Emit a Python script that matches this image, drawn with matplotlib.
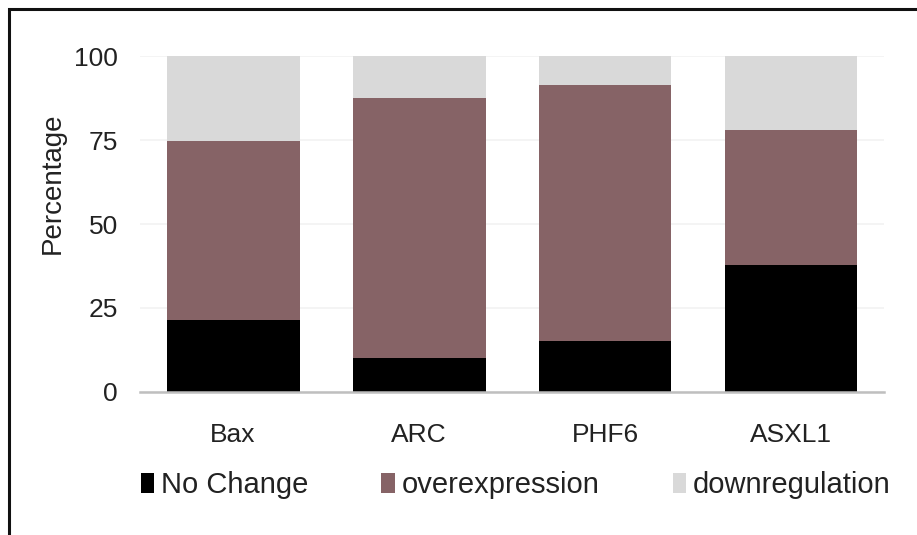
import matplotlib.pyplot as plt
from matplotlib.patches import Rectangle
import numpy as np

plt.rcParams['font.family'] = ['Liberation Sans', 'DejaVu Sans']

genes = ['Bax', 'ARC', 'PHF6', 'ASXL1']
no_change = [21.4, 10.0, 15.3, 37.9]
overexpression = [53.2, 77.5, 76.2, 40.2]
downregulation = [25.4, 12.5, 8.5, 21.9]

c_none = '#000000'
c_over = '#866366'
c_down = '#d9d9d9'

fig = plt.figure(figsize=(9.17, 5.35), dpi=100)
ax = fig.add_axes([0.1527, 0.2673, 0.8113, 0.628])

x = np.arange(len(genes))
w = 0.715
b1 = ax.bar(x, no_change, w, color=c_none, label='No Change', zorder=3)
bottom2 = np.array(no_change)
b2 = ax.bar(x, overexpression, w, bottom=bottom2, color=c_over, label='overexpression', zorder=3)
bottom3 = bottom2 + np.array(overexpression)
b3 = ax.bar(x, downregulation, w, bottom=bottom3, color=c_down, label='downregulation', zorder=3)

ax.set_xlim(-0.5, 3.5)
ax.set_ylim(0, 100)
ax.set_yticks([0, 25, 50, 75, 100])
ax.set_xticks(x)
ax.set_xticklabels(genes)
ax.tick_params(axis='both', length=0, labelsize=19, colors='#222222')
ax.tick_params(axis='y', pad=16)
ax.tick_params(axis='x', pad=22)
ax.yaxis.grid(True, color='#f2f2f2', linewidth=1.2, zorder=0)

for s in ['top', 'right', 'left']:
    ax.spines[s].set_visible(False)
ax.spines['bottom'].set_color('#bfbfbf')
ax.spines['bottom'].set_linewidth(1.8)
ax.spines['bottom'].set_zorder(4)

ax.set_ylabel('Percentage', fontsize=20, color='#222222')
ax.yaxis.set_label_coords(-0.1, 0.62)

fig.legend(handles=[b1, b2, b3], loc='center', bbox_to_anchor=(0.5625, 0.093),
           ncol=3, frameon=False, fontsize=21, handlelength=0.45, handleheight=0.7,
           handletextpad=0.25, columnspacing=2.5, labelcolor='#222222')

# frame around the whole figure
fig.patches.append(Rectangle((9 / 917, -0.05), 1.2, 1 - 9 / 535 + 0.05,
                             transform=fig.transFigure, fill=False,
                             edgecolor='#111111', linewidth=2.2))

fig.savefig('out.png', dpi=100)
